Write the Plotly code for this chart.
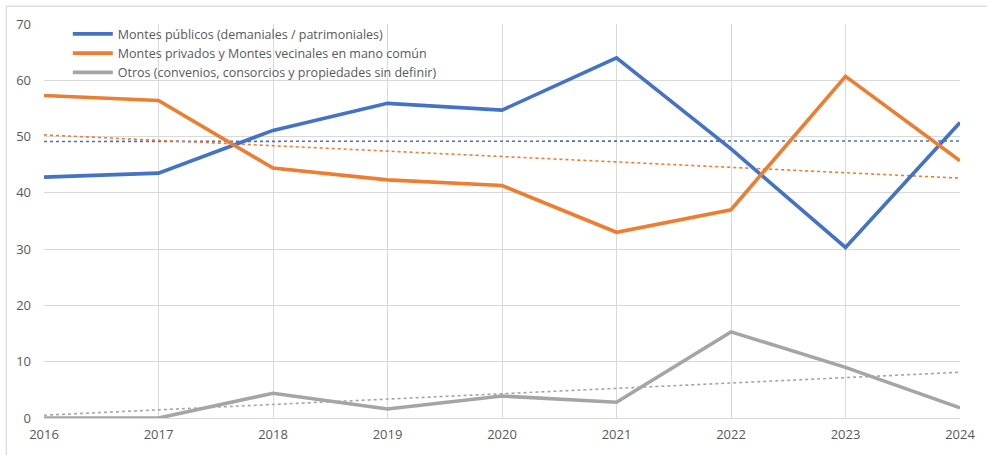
import numpy as np
import plotly.graph_objects as go

years = [2016, 2017, 2018, 2019, 2020, 2021, 2022, 2023, 2024]
montes_publicos = [42.8, 43.5, 51.1, 55.9, 54.7, 64.0, 47.8, 30.3, 52.5]
montes_privados = [57.3, 56.4, 44.4, 42.3, 41.3, 33.0, 37.0, 60.7, 45.7]
otros = [0.0, 0.0, 4.4, 1.6, 3.9, 2.8, 15.3, 9.0, 1.8]

names = [
    "Montes públicos (demaniales / patrimoniales)",
    "Montes privados y Montes vecinales en mano común",
    "Otros (convenios, consorcios y propiedades sin definir)",
]
colors = ["#4472C4", "#ED7D31", "#A5A5A5"]
series = [montes_publicos, montes_privados, otros]

fig = go.Figure()
x = np.array(years, dtype=float)
for vals, col in zip(series, colors):
    m, b = np.polyfit(x, np.array(vals), 1)
    fig.add_trace(go.Scatter(x=years, y=list(m * x + b), mode="lines",
                             line=dict(color=col, width=1.6, dash="dot"),
                             showlegend=False, hoverinfo="skip"))
for vals, col, nm in zip(series, colors, names):
    fig.add_trace(go.Scatter(x=years, y=vals, mode="lines", name=nm,
                             line=dict(color=col, width=3.6)))

fig.update_layout(
    width=987, height=455,
    margin=dict(l=44, r=21, t=24, b=34),
    paper_bgcolor="white", plot_bgcolor="white",
    font=dict(family="Open Sans, Liberation Sans, sans-serif", size=12, color="#595959"),
    legend=dict(x=0.026, y=1.012, xanchor="left", yanchor="top",
                bgcolor="rgba(0,0,0,0)", font=dict(size=12.5, color="#595959"),
                tracegroupgap=0, itemwidth=40),
    xaxis=dict(range=[2016, 2024], tickmode="array", tickvals=years,
               ticktext=[str(y) for y in years],
               showgrid=True, gridcolor="#d9d9d9", gridwidth=1,
               zeroline=False, showline=False, ticks="", ticklabelstandoff=7,
               tickfont=dict(size=13, color="#595959")),
    yaxis=dict(range=[0, 70], dtick=10, showgrid=True, gridcolor="#d9d9d9",
               zeroline=True, zerolinecolor="#d9d9d9", zerolinewidth=1,
               showline=False, ticks="", ticklabelstandoff=12,
               tickfont=dict(size=13, color="#595959")),
    shapes=[dict(type="rect", xref="paper", yref="paper",
                 x0=-0.0412, x1=1.05, y0=-0.2, y1=1.0453,
                 line=dict(color="#cfcfcf", width=1), fillcolor="rgba(0,0,0,0)",
                 layer="below")],
)

fig.write_html("out.html", config={"displayModeBar": False},
               post_script="document.body.style.margin='0';")
